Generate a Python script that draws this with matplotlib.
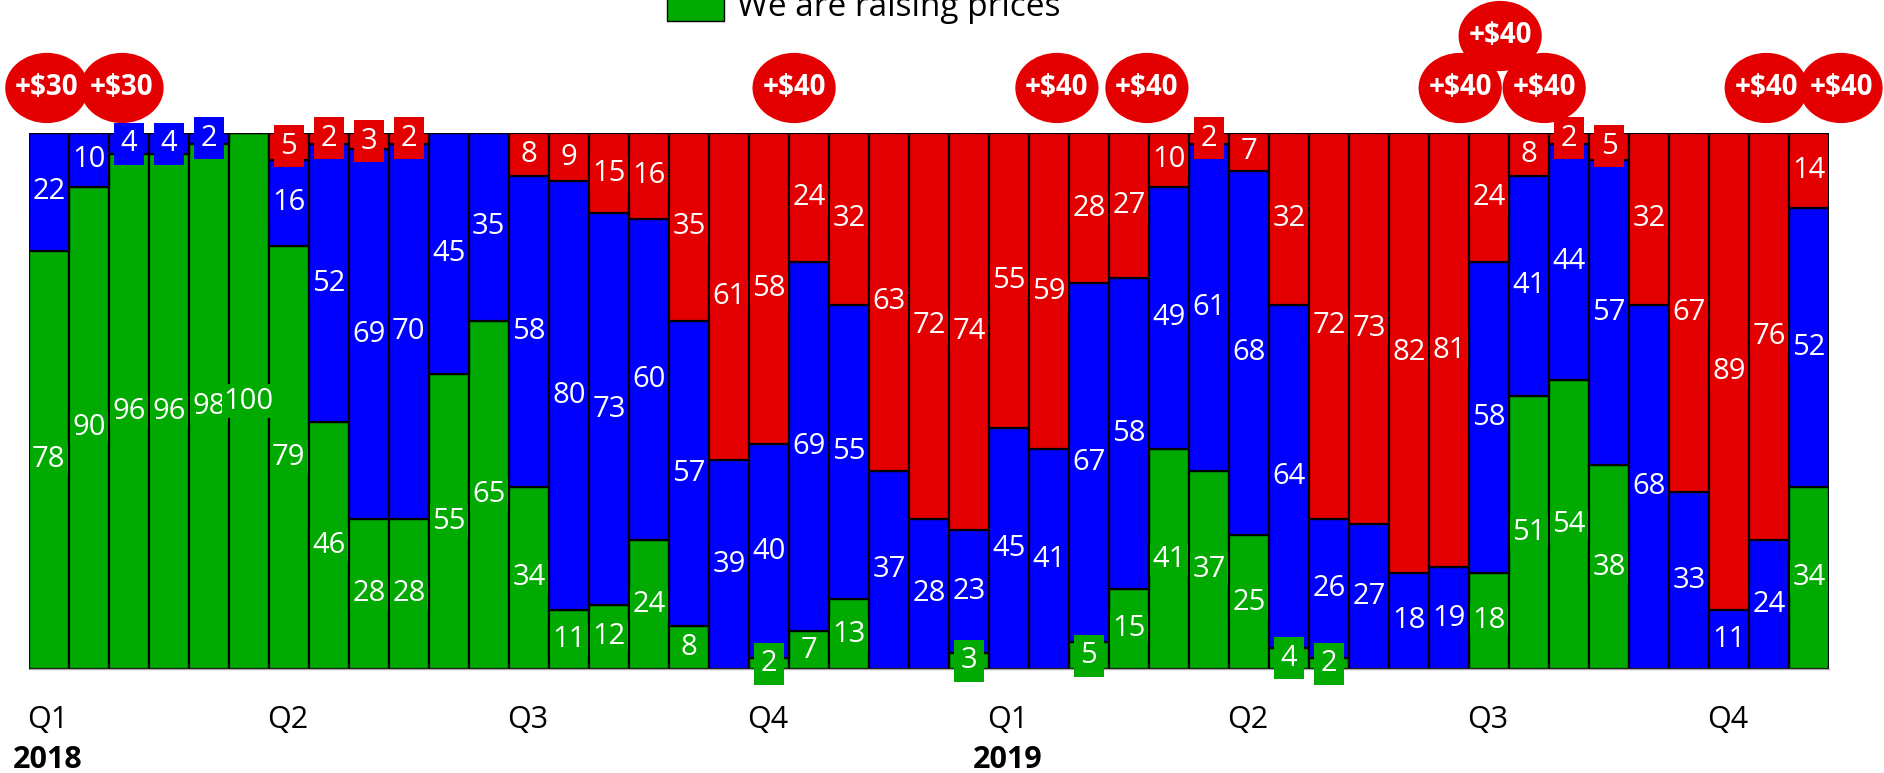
import matplotlib
matplotlib.use("Agg")
import matplotlib.pyplot as plt
from matplotlib.patches import Ellipse, Rectangle
from matplotlib.transforms import offset_copy

plt.rcParams['font.family'] = ['Open Sans', 'DejaVu Sans']

# share of answers per survey (percent)
raising = [78, 90, 96, 96, 98, 100, 79, 46, 28, 28, 55, 65, 34, 11, 12, 24, 8, 0, 2, 7, 13, 0, 0, 3,
           0, 0, 5, 15, 41, 37, 25, 4, 2, 0, 0, 0, 18, 51, 54, 38, 0, 0, 0, 0, 34]
holding = [22, 10, 4, 4, 2, 0, 16, 52, 69, 70, 45, 35, 58, 80, 73, 60, 57, 39, 40, 69, 55, 37, 28, 23,
           45, 41, 67, 58, 49, 61, 68, 64, 26, 27, 18, 19, 58, 41, 44, 57, 68, 33, 11, 24, 52]
lowering = [0, 0, 0, 0, 0, 0, 5, 2, 3, 2, 0, 0, 8, 9, 15, 16, 35, 61, 58, 24, 32, 63, 72, 74,
            55, 59, 28, 27, 10, 2, 7, 32, 72, 73, 82, 81, 24, 8, 2, 5, 32, 67, 89, 76, 14]

quarters = ['Q1', 'Q2', 'Q3', 'Q4', 'Q1', 'Q2', 'Q3', 'Q4']
quarter_start = [0, 6, 12, 18, 24, 30, 36, 42]
years = ['2018', '2019']
year_start = [0, 24]

# price changes (position along the survey axis, label, stacking row)
price_pos = [-0.05, 1.83, 18.63, 25.2, 27.45, 36.28, 35.28, 37.38, 42.93, 44.8]
price_text = ['+$30', '+$30', '+$40', '+$40', '+$40', '+$40', '+$40', '+$40', '+$40', '+$40']
price_row = [0, 0, 0, 0, 0, 1, 0, 0, 0, 0]

GREEN = '#00aa00'
BLUE = '#0000ff'
RED = '#e40000'

fig = plt.figure(figsize=(18.84, 7.73), dpi=100)
ax = fig.add_axes([0.01529, 0.13454, 0.95552, 0.69340])

x = list(range(len(raising)))
bottom_blue = raising
bottom_red = [g + b for g, b in zip(raising, holding)]

ax.bar(x, raising, width=1.0, color=GREEN, edgecolor='black', linewidth=1.6, zorder=2)
ax.bar(x, holding, width=1.0, bottom=bottom_blue, color=BLUE, edgecolor='black', linewidth=1.6, zorder=2)
ax.bar(x, lowering, width=1.0, bottom=bottom_red, color=RED, edgecolor='black', linewidth=1.6, zorder=2)

# value labels in the middle of each segment; thin slices get a visible tag
for i in x:
    for val, base, col in ((raising[i], 0, GREEN), (holding[i], bottom_blue[i], BLUE),
                           (lowering[i], bottom_red[i], RED)):
        if val == 0:
            continue
        pad = 0.22 if val <= 5 else 0.07
        ax.text(i, base + val / 2, str(val), ha='center', va='center', color='white',
                fontsize=21, zorder=5, clip_on=False,
                bbox=dict(boxstyle='square,pad=%.2f' % pad, facecolor=col, edgecolor='none'))

# price change markers above the bars
row_y = [108.4, 118.1]
order = sorted(range(len(price_pos)), key=lambda k: -price_row[k])
for k in order:
    yc = row_y[price_row[k]]
    ax.add_patch(Ellipse((price_pos[k], yc), 2.08, 13.1, facecolor=RED, edgecolor='none',
                         clip_on=False, zorder=6))
    ax.text(price_pos[k], yc, price_text[k], ha='center', va='center', color='white',
            fontsize=20, fontweight='bold', zorder=7, clip_on=False)

ax.set_xlim(-0.5, len(raising) - 0.5)
ax.set_ylim(0, 100)
ax.set_xticks([])
ax.set_yticks([])
for s in ['top', 'left', 'right']:
    ax.spines[s].set_visible(False)
ax.spines['bottom'].set_color('#aaaaaa')
ax.spines['bottom'].set_linewidth(1.0)

# quarter and year labels under the axis
for q, start in zip(quarters, quarter_start):
    tr = offset_copy(ax.get_xaxis_transform(), fig=fig, x=-1, y=-42.5, units='points')
    ax.text(start - 0.5, 0, q, transform=tr, ha='left', va='baseline', fontsize=22)
for yr, start in zip(years, year_start):
    tr = offset_copy(ax.get_xaxis_transform(), fig=fig, x=13.5, y=-71.5, units='points')
    ax.text(start - 0.5, 0, yr, transform=tr, ha='center', va='baseline', fontsize=22,
            fontweight='bold')

# legend entry, partly above the top edge
fig.patches.append(Rectangle((667 / 1884, 1 - 21 / 773), 57 / 1884, 40 / 773,
                             transform=fig.transFigure, facecolor=GREEN, edgecolor='black',
                             linewidth=1.0))
fig.text(737 / 1884, 1 - 16 / 773, 'We are raising prices', ha='left', va='baseline',
         fontsize=24)

fig.savefig('out.png', dpi=100)
